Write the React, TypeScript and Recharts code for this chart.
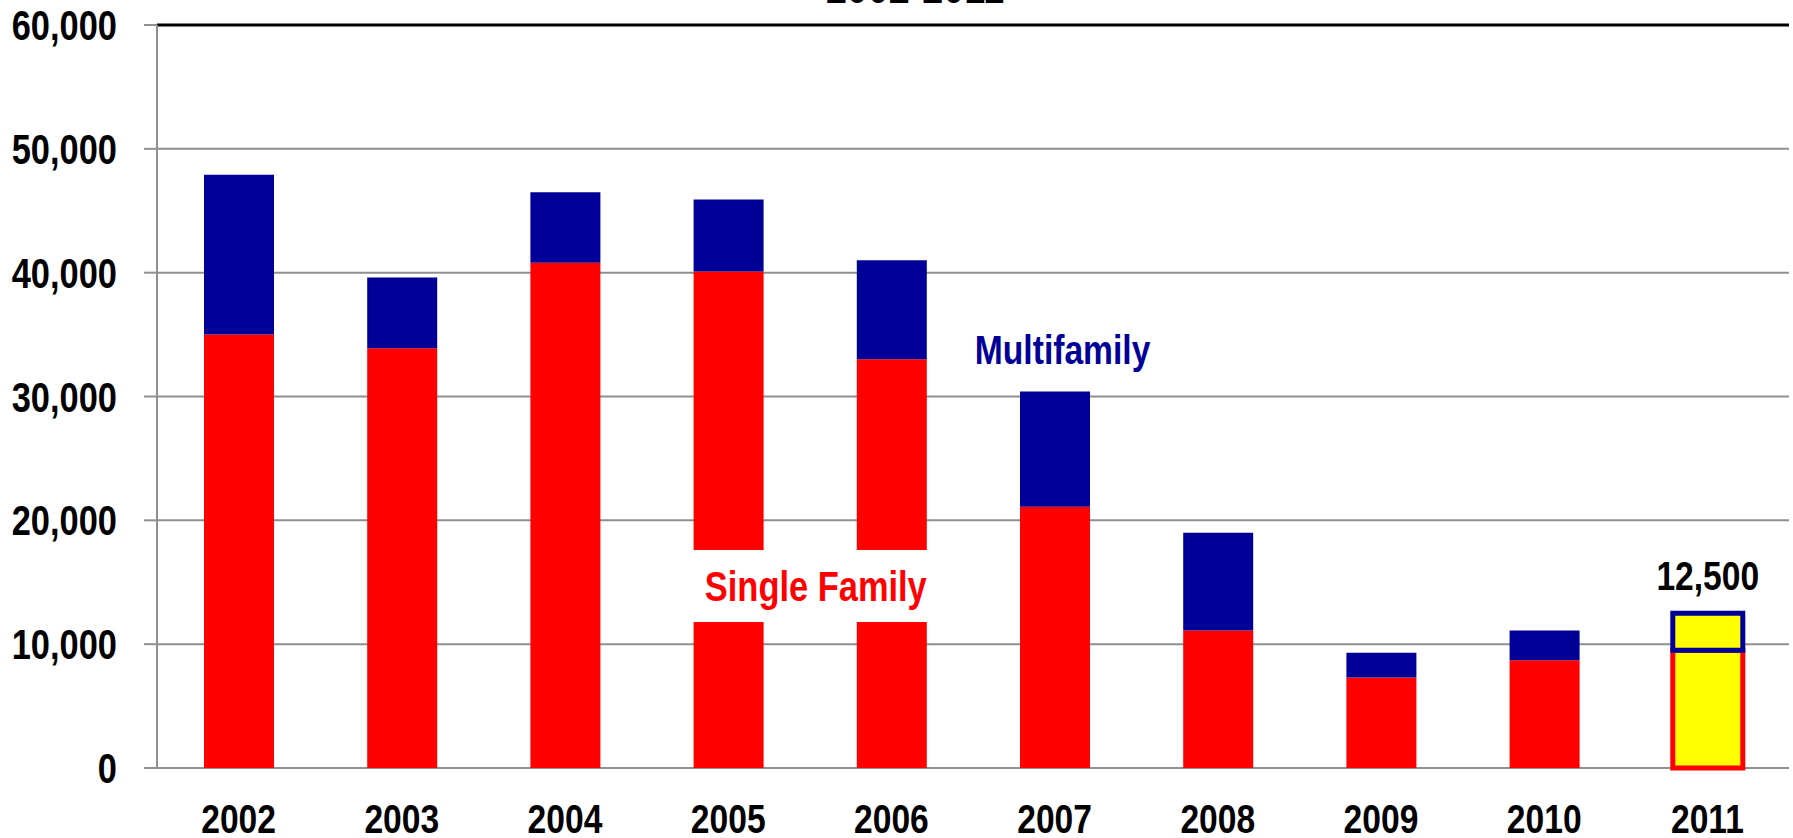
import {
  Bar,
  BarChart,
  CartesianGrid,
  Cell,
  ReferenceArea,
  ReferenceDot,
  ReferenceLine,
  XAxis,
  YAxis,
} from 'recharts'

const years = ['2002', '2003', '2004', '2005', '2006', '2007', '2008', '2009', '2010', '2011']
const singleFamily = [35000, 33900, 40800, 40100, 33000, 21100, 11100, 7300, 8700, 9500]
const multifamily = [12900, 5700, 5700, 5800, 8000, 9300, 7900, 2000, 2400, 3000]
const yTicks = [0, 10000, 20000, 30000, 40000, 50000, 60000]
const edgeTicks = [0, 1, 2, 3, 4, 5, 6, 7, 8, 9, 10]
const forecastYear = '2011'
const forecastTotal = 12500

// no Arial Narrow installed, so squeeze Liberation Sans (Arial metrics) horizontally
const FONT = "'Liberation Sans', Arial, sans-serif"
const SQUEEZE = 0.82
const RED = '#ff0000'
const BLUE = '#000099'
const YELLOW = '#ffff00'
const GRAY = '#8f8f8f'

type Row = { year: string; single: number; multi: number }

const data: Row[] = years.map((y, i) => ({ year: y, single: singleFamily[i], multi: multifamily[i] }))
const forecastIndex = years.indexOf(forecastYear)

const fmt = (v: number) => v.toLocaleString('en-US')

function NarrowText(props: {
  x: number
  y: number
  anchor?: 'start' | 'middle' | 'end'
  dy?: string
  size?: number
  color?: string
  children: string
}) {
  return (
    <text
      transform={`translate(${props.x},${props.y}) scale(${SQUEEZE},1)`}
      x={0}
      y={0}
      dy={props.dy}
      textAnchor={props.anchor ?? 'middle'}
      fontSize={props.size ?? 41}
      fontWeight={700}
      fontFamily={FONT}
      fill={props.color ?? '#000'}
    >
      {props.children}
    </text>
  )
}

const XTick = (p: any) => (
  <NarrowText x={p.x} y={p.y} dy="0.71em">
    {String(p.payload.value)}
  </NarrowText>
)

const YTick = (p: any) => (
  <NarrowText x={p.x} y={p.y} anchor="end" dy="0.36em" size={42}>
    {fmt(p.payload.value)}
  </NarrowText>
)

export default function App() {
  return (
    <div style={{ position: 'absolute', left: 0, top: 0, width: 1793, height: 838, background: '#fff', overflow: 'hidden' }}>
      <BarChart
        width={1793}
        height={838}
        data={data}
        margin={{ top: 25, right: 4, left: 0, bottom: 0 }}
        barSize={70}
      >
        <CartesianGrid vertical={false} stroke={GRAY} strokeWidth={2} />
        <XAxis
          xAxisId="edges"
          type="number"
          domain={[0, 10]}
          allowDataOverflow
          ticks={edgeTicks}
          height={0}
          stroke={GRAY}
          strokeWidth={2}
          tickSize={13}
          tickFormatter={() => ''}
        />
        <XAxis
          dataKey="year"
          height={70}
          axisLine={false}
          tickLine={false}
          tickSize={0}
          tickMargin={36}
          tick={XTick}
        />
        <YAxis
          width={157}
          domain={[0, 60000]}
          ticks={yTicks}
          stroke={GRAY}
          strokeWidth={2}
          tickSize={13}
          tickMargin={27}
          tick={YTick}
        />
        <Bar dataKey="single" stackId="a" fill={RED} isAnimationActive={false}>
          {data.map((d) => (
            <Cell
              key={d.year}
              fill={d.year === forecastYear ? YELLOW : RED}
              stroke={d.year === forecastYear ? RED : 'none'}
              strokeWidth={d.year === forecastYear ? 5 : 0}
            />
          ))}
        </Bar>
        <Bar
          dataKey="multi"
          stackId="a"
          fill={BLUE}
          isAnimationActive={false}
          label={(p: any) =>
            p.index === forecastIndex ? (
              <NarrowText x={p.x + p.width / 2} y={p.y - 23}>
                {fmt(forecastTotal)}
              </NarrowText>
            ) : (
              <g />
            )
          }
        >
          {data.map((d) => (
            <Cell
              key={d.year}
              fill={d.year === forecastYear ? YELLOW : BLUE}
              stroke={d.year === forecastYear ? BLUE : 'none'}
              strokeWidth={d.year === forecastYear ? 5 : 0}
            />
          ))}
        </Bar>
        <ReferenceArea
          x1="2005"
          x2="2006"
          y1={11800}
          y2={17600}
          fill="#fff"
          fillOpacity={1}
          stroke="none"
          zIndex={1000}
          label={(p: any) => {
            const vb = p.viewBox
            return (
              <NarrowText x={vb.x + vb.width / 2 + 6} y={vb.y + vb.height / 2} dy="0.36em" size={42} color={RED}>
                Single Family
              </NarrowText>
            )
          }}
        />
        <ReferenceDot
          x="2007"
          y={33800}
          r={0}
          fill="none"
          stroke="none"
          label={(p: any) => {
            const vb = p.viewBox
            return (
              <NarrowText x={vb.x + vb.width / 2 + 8} y={vb.y + vb.height / 2} dy="0.36em" color={BLUE}>
                Multifamily
              </NarrowText>
            )
          }}
        />
        <ReferenceLine
          y={60000}
          stroke="#000"
          strokeWidth={3}
          label={(p: any) => {
            const vb = p.viewBox
            return (
              <NarrowText x={vb.x + 758} y={vb.y - 22} size={46}>
                2002-2011
              </NarrowText>
            )
          }}
        />
        <ReferenceLine xAxisId="edges" x={10} stroke="#000" strokeWidth={2} />
      </BarChart>
    </div>
  )
}
